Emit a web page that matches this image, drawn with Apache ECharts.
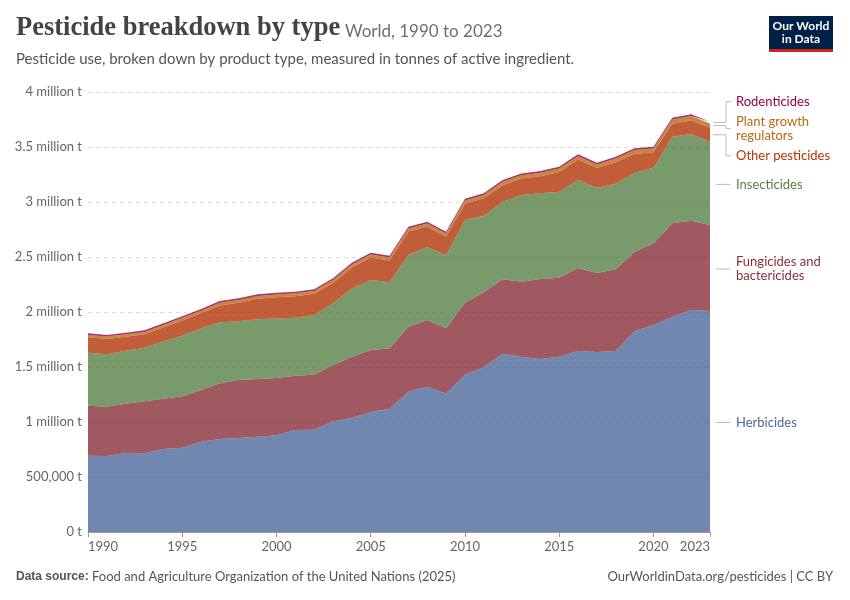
<!DOCTYPE html>
<html>
<head>
<meta charset="utf-8">
<script src="https://cdn.jsdelivr.net/npm/echarts@6/dist/echarts.min.js"></script>
<style>
html,body{margin:0;padding:0;background:#fff;}
#chart{width:850px;height:600px;}
</style>
</head>
<body>
<div id="chart"></div>
<script>
const years = ['1990','1991','1992','1993','1994','1995','1996','1997','1998','1999','2000','2001','2002','2003','2004','2005','2006','2007','2008','2009','2010','2011','2012','2013','2014','2015','2016','2017','2018','2019','2020','2021','2022','2023'];
const shownYears = ['1990','1995','2000','2005','2010','2015','2020','2023'];
const yTicks = [0, 500000, 1000000, 1500000, 2000000, 2500000, 3000000, 3500000, 4000000];

const herbicides = [694000,692000,718000,715000,755000,766000,820000,845000,855000,866000,880000,927000,930000,1006000,1036000,1090000,1120000,1275000,1320000,1260000,1430000,1500000,1620000,1590000,1573000,1594000,1645000,1636000,1645000,1827000,1880000,1957000,2018000,2009000];
const fungicides = [454000,447000,448000,473000,457000,467000,471000,507000,527000,525000,520000,494000,500000,512000,558000,565000,550000,591000,607000,592000,655000,679000,677000,686000,727000,718000,755000,719000,743000,721000,744000,849000,812000,781000];
const insecticides = [482000,476000,482000,487000,523000,552000,561000,555000,534000,544000,542000,527000,543000,561000,619000,635000,600000,652000,663000,663000,751000,696000,706000,788000,779000,782000,800000,775000,779000,719000,688000,788000,788000,758000];
const otherPesticides = [140000,140000,128000,122000,124000,138000,136000,153000,168000,185000,192000,196000,192000,185000,191000,205000,198000,213000,186000,170000,148000,158000,150000,149000,155000,179000,184000,178000,195000,170000,140000,117000,123000,126000];
const plantGrowth = [22000,22000,22000,22000,23000,24000,24000,25000,25000,26000,26000,26000,26000,27000,28000,28000,28000,29000,29000,29000,30000,30000,31000,31000,32000,32000,33000,33000,34000,35000,35000,40000,40000,40000];
const rodenticides = [14000,14000,14000,14000,15000,15000,15000,15000,15000,15000,15000,15000,15000,15000,16000,16000,16000,16000,16000,16000,16000,16000,16000,16000,16000,16000,16000,16000,16000,16000,16000,16000,16000,16000];

const seriesDefs = [
  {name:'Herbicides', data:herbicides, color:'#4c6a9c', label:['Herbicides']},
  {name:'Fungicides and bactericides', data:fungicides, color:'#883039', label:['Fungicides and','bactericides']},
  {name:'Insecticides', data:insecticides, color:'#578145', label:['Insecticides']},
  {name:'Other pesticides', data:otherPesticides, color:'#b13507', label:['Other pesticides']},
  {name:'Plant growth regulators', data:plantGrowth, color:'#b8690f', label:['Plant growth','regulators']},
  {name:'Rodenticides', data:rodenticides, color:'#970046', label:['Rodenticides']}
];

const chart = echarts.init(document.getElementById('chart'));
const FONT = 'Lato, "Noto Sans", sans-serif';

function fmtY(v){
  if (v === 0) return '0 t';
  if (v < 1000000) return v.toLocaleString('en-US') + ' t';
  return (v/1000000) + ' million t';
}

const option = {
  animation:false,
  backgroundColor:'#fff',
  textStyle:{fontFamily:FONT},
  grid:{left:88, right:140, top:92, bottom:68, containLabel:false},
  xAxis:{
    type:'category', data:years, boundaryGap:false,
    axisLine:{show:true, lineStyle:{color:'#999', width:1}},
    axisTick:{show:true, length:5, lineStyle:{color:'#999'}, interval:(i,v)=>shownYears.includes(v)},
    axisLabel:{color:'#666', fontSize:13, fontFamily:FONT, margin:8, interval:(i,v)=>shownYears.includes(v),
      alignMinLabel:'left', alignMaxLabel:'right'},
    splitLine:{show:false}
  },
  yAxis:{
    type:'value', min:0, max:4000000, interval:500000,
    axisLine:{show:false}, axisTick:{show:false},
    axisLabel:{color:'#666', fontSize:13, fontFamily:FONT, margin:6, formatter:(v)=>yTicks.includes(v)?fmtY(v):''},
    splitLine:{show:true, lineStyle:{color:'#ddd', type:[4,4], width:1}}
  },
  series: seriesDefs.map(s=>({
    name:s.name, type:'line', stack:'total', data:s.data,
    showSymbol:false, symbol:'none', smooth:false,
    lineStyle:{width:0, color:s.color},
    itemStyle:{color:s.color},
    areaStyle:{color:s.color, opacity:0.8},
    emphasis:{disabled:true}
  }))
};
chart.setOption(option);

// Right-side labels
const last = years.length - 1;
let cum = 0;
const labels = seriesDefs.map(s=>{
  const v = s.data[last];
  const mid = cum + v/2;
  cum += v;
  const y = chart.convertToPixel({yAxisIndex:0}, mid);
  const h = s.label.length === 1 ? 16 : 30;
  return {def:s, desired:y, h:h, y:y};
});
const order = labels.slice().sort((a,b)=>a.desired-b.desired);
const gap = 4;
let clusters = order.map(l=>({items:[l]}));
function layoutCluster(c){
  const total = c.items.reduce((s,l)=>s+l.h,0) + gap*(c.items.length-1);
  const meanDesired = c.items.reduce((s,l)=>s+l.desired,0)/c.items.length;
  let acc = 0; const rel = [];
  c.items.forEach(l=>{ rel.push(acc + l.h/2); acc += l.h + gap; });
  const meanRel = rel.reduce((s,r)=>s+r,0)/rel.length;
  const top = meanDesired - meanRel;
  c.top = top; c.bottom = top + total;
  c.items.forEach((l,i)=>{ l.y = top + rel[i]; });
}
clusters.forEach(layoutCluster);
let merged = true;
while (merged) {
  merged = false;
  for (let i=0;i<clusters.length-1;i++){
    if (clusters[i].bottom + gap > clusters[i+1].top) {
      clusters[i].items = clusters[i].items.concat(clusters[i+1].items);
      clusters.splice(i+1,1);
      layoutCluster(clusters[i]);
      merged = true; break;
    }
  }
}

const graphics = [];
labels.forEach(l=>{
  const d = l.desired, y = l.y + 1;
  if (Math.abs(d - y) > 3) {
    graphics.push({type:'polyline', shape:{points:[[713,d],[726,d],[726,y],[731,y]]},
      style:{stroke:'#bbb', lineWidth:1, fill:null}, silent:true});
  } else {
    graphics.push({type:'line', shape:{x1:716, y1:y, x2:730, y2:y},
      style:{stroke:'#bbb', lineWidth:1}, silent:true});
  }
  graphics.push({type:'text', x:736, y:y,
    style:{text:l.def.label.join('\n'), fill:l.def.color, font:'13px ' + FONT, lineHeight:14, verticalAlign:'middle', textVerticalAlign:'middle'}, silent:true});
});

graphics.push(
  {type:'text', left:16, top:15, style:{text:'Pesticide breakdown by type', fill:'#444', font:'bold 26.5px "Liberation Serif", "DejaVu Serif", serif'}},
  {type:'text', left:345, top:23, style:{text:'World, 1990 to 2023', fill:'#6e6e6e', font:'17px ' + FONT}},
  {type:'text', left:16, top:52, style:{text:'Pesticide use, broken down by product type, measured in tonnes of active ingredient.', fill:'#555', font:'15px ' + FONT}},
  {type:'rect', shape:{x:769, y:16, width:64, height:36}, style:{fill:'#002147'}},
  {type:'rect', shape:{x:769, y:49, width:64, height:3}, style:{fill:'#ce261e'}},
  {type:'text', x:801, y:33, style:{text:'Our World\nin Data', fill:'#fff', font:'bold 12px ' + FONT, lineHeight:13, align:'center', textAlign:'center', verticalAlign:'middle', textVerticalAlign:'middle'}},
  {type:'text', left:16, top:570, style:{rich:{b:{fontWeight:'bold', fill:'#555', font:'bold 13px ' + FONT}, n:{fill:'#555', font:'13px ' + FONT}}, text:'{b|Data source:} {n|Food and Agriculture Organization of the United Nations (2025)}'}},
  {type:'text', right:17, top:570, style:{text:'OurWorldinData.org/pesticides | CC BY', fill:'#555', font:'13px ' + FONT}}
);
chart.setOption({graphic:graphics});
</script>
</body>
</html>
